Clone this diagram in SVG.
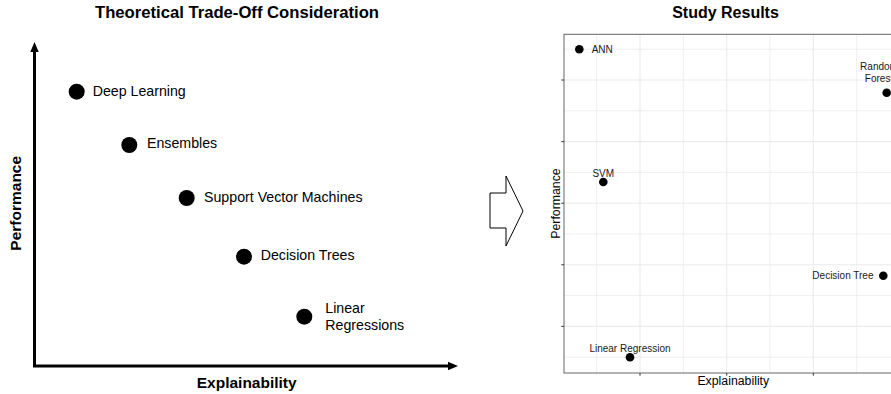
<svg xmlns="http://www.w3.org/2000/svg" width="891" height="394" viewBox="0 0 891 394">
<style>
.title{font-family:"Liberation Sans",Arial,sans-serif;font-weight:bold;font-size:16px;fill:#000;text-anchor:middle}
.axl{font-family:"Liberation Sans",Arial,sans-serif;font-weight:bold;font-size:15.5px;fill:#000;text-anchor:middle}
.lbl{font-family:"Liberation Sans",Arial,sans-serif;font-size:14.2px;fill:#000}
.rlbl{font-family:"Liberation Sans",Arial,sans-serif;font-size:10px;fill:#1a1a1a}
.raxl{font-family:"Liberation Sans",Arial,sans-serif;font-size:12.3px;fill:#000;text-anchor:middle}
.dot{fill:#000}
.axis{stroke:#000;stroke-width:3;fill:none}
.gmaj{stroke:#ebebeb;stroke-width:1.1}
.gmin{stroke:#ebebeb;stroke-width:0.8}
.tick{stroke:#333;stroke-width:1}
</style>
<defs>
<marker id="ah" markerUnits="userSpaceOnUse" markerWidth="10" markerHeight="10" viewBox="0 0 10 10" refX="1" refY="5" orient="auto-start-reverse">
<path d="M0,0.8 L10,5 L0,9.2 Z" fill="#000"/>
</marker>
</defs>
<rect width="891" height="394" fill="#fff"/>

<!-- Left chart -->
<g id="left-chart">
<text class="title" x="237" y="17.5" textLength="284" lengthAdjust="spacingAndGlyphs">Theoretical Trade-Off Consideration</text>
<g id="left-axes">
<polyline class="axis" points="34.5,51 34.5,366 449,366" marker-start="url(#ah)" marker-end="url(#ah)"/>
</g>
<text class="axl" x="246.7" y="388">Explainability</text>
<text class="axl" transform="translate(20.5,203.3) rotate(-90)">Performance</text>
<g id="n-deep"><circle class="dot" cx="76.7" cy="91.7" r="8"/><text class="lbl" x="92.7" y="96">Deep Learning</text></g>
<g id="n-ens"><circle class="dot" cx="129.3" cy="145" r="8"/><text class="lbl" x="147" y="148">Ensembles</text></g>
<g id="n-svm"><circle class="dot" cx="186.7" cy="198" r="8"/><text class="lbl" x="204" y="202">Support Vector Machines</text></g>
<g id="n-dt"><circle class="dot" cx="244" cy="256.7" r="8"/><text class="lbl" x="260.7" y="259.5">Decision Trees</text></g>
<g id="n-lr"><circle class="dot" cx="304.3" cy="316.7" r="8"/><text class="lbl" x="325.3" y="312.5">Linear</text><text class="lbl" x="325.3" y="329.5">Regressions</text></g>
</g>

<!-- Block arrow -->
<g id="block-arrow">
<polygon points="490,193 506,193 506,176 523,211 506,246 506,228 490,228" fill="#fff" stroke="#000" stroke-width="1"/>
</g>

<!-- Right chart -->
<g id="right-chart">
<text class="title" x="725.5" y="17.5">Study Results</text>
<rect x="564" y="34.3" width="338" height="338.7" fill="#fff"/>
<g id="grid">
<line class="gmin" x1="564" x2="902" y1="49.2" y2="49.2"/>
<line class="gmin" x1="564" x2="902" y1="110.8" y2="110.8"/>
<line class="gmin" x1="564" x2="902" y1="172.4" y2="172.4"/>
<line class="gmin" x1="564" x2="902" y1="234" y2="234"/>
<line class="gmin" x1="564" x2="902" y1="295.6" y2="295.6"/>
<line class="gmin" x1="564" x2="902" y1="357.2" y2="357.2"/>
<line class="gmin" x1="596.7" x2="596.7" y1="34.3" y2="373"/>
<line class="gmin" x1="683.3" x2="683.3" y1="34.3" y2="373"/>
<line class="gmin" x1="770" x2="770" y1="34.3" y2="373"/>
<line class="gmin" x1="856.7" x2="856.7" y1="34.3" y2="373"/>
<line class="gmaj" x1="564" x2="902" y1="80" y2="80"/>
<line class="gmaj" x1="564" x2="902" y1="141.6" y2="141.6"/>
<line class="gmaj" x1="564" x2="902" y1="203.2" y2="203.2"/>
<line class="gmaj" x1="564" x2="902" y1="264.8" y2="264.8"/>
<line class="gmaj" x1="564" x2="902" y1="326.4" y2="326.4"/>
<line class="gmaj" x1="640" x2="640" y1="34.3" y2="373"/>
<line class="gmaj" x1="726.7" x2="726.7" y1="34.3" y2="373"/>
<line class="gmaj" x1="813.3" x2="813.3" y1="34.3" y2="373"/>
</g>
<rect x="564" y="34.3" width="338" height="338.7" fill="none" stroke="#666" stroke-width="1"/>
<g id="ticks">
<line class="tick" x1="561.3" x2="564" y1="80" y2="80"/>
<line class="tick" x1="561.3" x2="564" y1="141.6" y2="141.6"/>
<line class="tick" x1="561.3" x2="564" y1="203.2" y2="203.2"/>
<line class="tick" x1="561.3" x2="564" y1="264.8" y2="264.8"/>
<line class="tick" x1="561.3" x2="564" y1="326.4" y2="326.4"/>
<line class="tick" x1="640" x2="640" y1="373" y2="375.7"/>
<line class="tick" x1="726.7" x2="726.7" y1="373" y2="375.7"/>
<line class="tick" x1="813.3" x2="813.3" y1="373" y2="375.7"/>
</g>
<text class="raxl" x="733.3" y="384.5">Explainability</text>
<text class="raxl" transform="translate(560,203.5) rotate(-90)">Performance</text>
<g id="r-ann"><circle class="dot" cx="579.3" cy="49.3" r="4.3"/><text class="rlbl" x="591.7" y="52.8">ANN</text></g>
<g id="r-rf"><circle class="dot" cx="886.7" cy="92.7" r="4.3"/><text class="rlbl" x="879" y="69.5" text-anchor="middle">Random</text><text class="rlbl" x="879" y="81.5" text-anchor="middle">Forest</text></g>
<g id="r-svm"><circle class="dot" cx="603.3" cy="182" r="4.3"/><text class="rlbl" x="603.3" y="177" text-anchor="middle">SVM</text></g>
<g id="r-dt"><circle class="dot" cx="883.3" cy="275.7" r="4.3"/><text class="rlbl" x="873.5" y="279.2" text-anchor="end">Decision Tree</text></g>
<g id="r-lr"><circle class="dot" cx="630" cy="357.3" r="4.3"/><text class="rlbl" x="630" y="351.7" text-anchor="middle">Linear Regression</text></g>
</g>
</svg>
